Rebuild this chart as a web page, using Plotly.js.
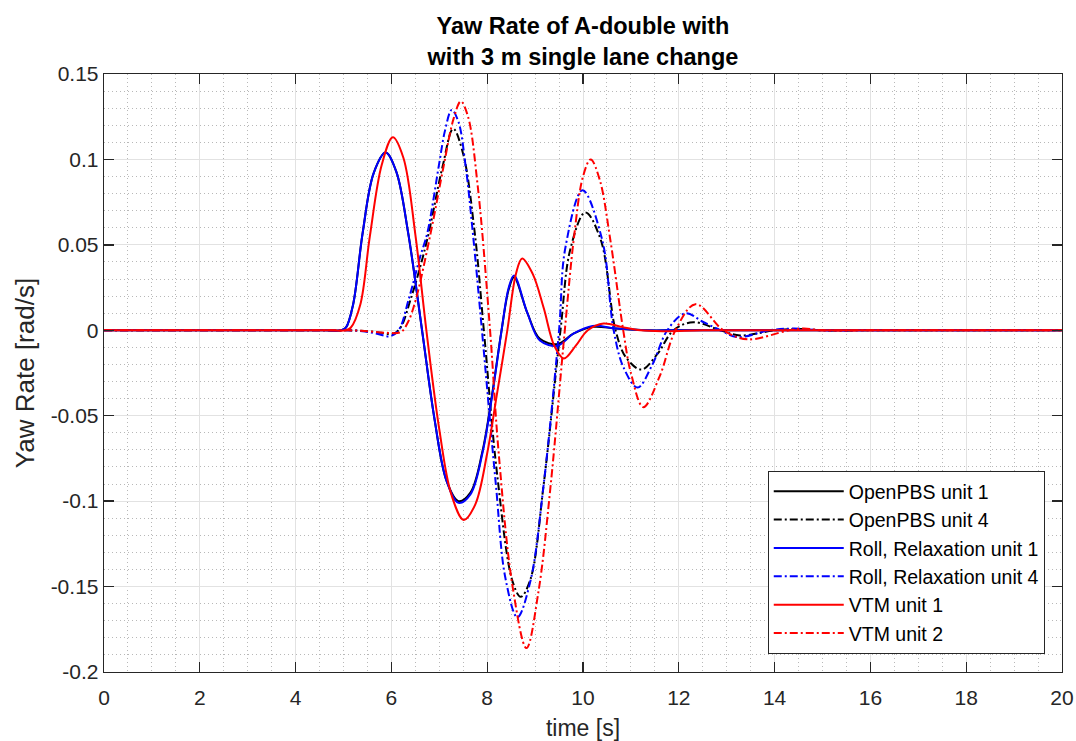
<!DOCTYPE html>
<html>
<head>
<meta charset="utf-8">
<script src="https://cdn.plot.ly/plotly-3.0.1.min.js"></script>
<style>html,body{margin:0;padding:0;background:#fff;}#chart{width:1076px;height:741px;}</style>
</head>
<body>
<div id="chart"></div>
<script>
// ---- Data ----
var seriesNames = ["OpenPBS unit 1", "OpenPBS unit 4", "Roll, Relaxation unit 1", "Roll, Relaxation unit 4", "VTM unit 1", "VTM unit 2"];

var t_open1 = [0,1,2,3,4,4.6,4.95,5.05,5.2,5.4,5.63,5.88,6.1,6.35,6.64,6.9,7.15,7.4,7.65,7.9,8.1,8.3,8.45,8.56,8.84,9.1,9.47,9.8,10.2,10.7,11.3,12,13,14,15,16,17,18,19,20];
var y_open1 = [0,0,0,0,0,0,0,0.0015,0.015,0.057,0.092,0.104,0.093,0.057,0,-0.052,-0.088,-0.100,-0.095,-0.071,-0.038,0,0.024,0.031,0.010,-0.005,-0.008,-0.002,0.002,0.001,0,0,0,0,0,0,0,0,0,0];

var t_roll1 = [0,1,2,3,4,4.6,4.95,5.05,5.2,5.4,5.63,5.88,6.1,6.35,6.64,6.9,7.15,7.4,7.65,7.9,8.1,8.3,8.45,8.56,8.84,9.1,9.47,9.8,10.2,10.7,11.3,12,13,14,15,16,17,18,19,20];
var y_roll1 = [0,0,0,0,0,0,0,0.0015,0.015,0.057,0.092,0.104,0.093,0.057,0,-0.052,-0.088,-0.101,-0.096,-0.072,-0.039,0,0.025,0.032,0.010,-0.006,-0.009,-0.002,0.0025,0.001,0,0,0,0,0,0,0,0,0,0];

var t_vtm1 = [0,1,2,3,4,4.7,5.05,5.15,5.35,5.55,5.8,6.03,6.25,6.5,6.73,7.0,7.25,7.51,7.75,8.0,8.2,8.42,8.6,8.73,8.95,9.18,9.4,9.6,9.85,10.1,10.43,10.8,11.2,11.7,12.5,13.5,15,16,17,18,19,20];
var y_vtm1 = [0,0,0,0,0,0,0,0.0015,0.015,0.055,0.097,0.113,0.101,0.056,0,-0.058,-0.096,-0.111,-0.102,-0.072,-0.038,0,0.033,0.042,0.033,0.013,-0.009,-0.0165,-0.009,0,0.004,0.002,0,-0.0005,0,0,0,0,0,0,0,0];

var t_open4 = [0,1,2,3,4,4.6,5.1,5.5,5.8,6.05,6.2,6.4,6.6,6.78,7.07,7.29,7.5,7.74,7.93,8.21,8.53,8.70,8.9,9.18,9.53,9.74,10.05,10.37,10.68,10.9,11.22,11.55,11.89,12.3,12.87,13.28,14.0,14.5,15,16,17,18,19,20];
var y_open4 = [0,0,0,0,0,0,0,-0.0005,-0.0015,-0.002,0.002,0.018,0.037,0.057,0.096,0.118,0.103,0.057,0,-0.085,-0.147,-0.156,-0.146,-0.09,0,0.048,0.069,0.053,0,-0.016,-0.023,-0.014,0,0.0047,0,-0.003,0,0.0008,0,0,0,0,0,0];

var t_roll4 = [0,1,2,3,4,4.6,5.05,5.4,5.7,5.97,6.15,6.36,6.6,6.75,7.0,7.12,7.26,7.4,7.55,7.7,7.89,8.18,8.38,8.63,8.9,9.18,9.5,9.63,9.99,10.4,10.64,10.85,11.14,11.45,11.76,12.14,12.5,12.87,13.22,13.9,14.4,15,16,17,18,19,20];
var y_roll4 = [0,0,0,0,0,0,0,-0.0005,-0.002,-0.0035,0,0.018,0.043,0.057,0.098,0.117,0.129,0.122,0.096,0.057,0,-0.09,-0.145,-0.168,-0.147,-0.09,0,0.048,0.082,0.053,0,-0.022,-0.0335,-0.02,0,0.010,0.005,0,-0.004,0,0.001,0,0,0,0,0,0];

var t_vtm2 = [0,1,2,3,4,4.6,5.1,5.5,5.9,6.2,6.35,6.51,6.82,7.09,7.3,7.45,7.6,7.8,8.06,8.24,8.53,8.82,9.07,9.32,9.62,9.81,10.0,10.16,10.35,10.57,10.84,11.0,11.26,11.6,11.93,12.35,12.93,13.43,14.3,14.6,15,16,17,18,19,20];
var y_vtm2 = [0,0,0,0,0,0,0,-0.0005,-0.0015,-0.001,0.005,0.018,0.057,0.096,0.124,0.134,0.125,0.085,0,-0.072,-0.15,-0.186,-0.153,-0.092,0,0.054,0.09,0.100,0.088,0.053,0,-0.025,-0.045,-0.027,0,0.0153,0,-0.0053,0,0.001,0,0,0,0,0,0];

var xTickVals = [0,2,4,6,8,10,12,14,16,18,20];
var xTickText = ["0","2","4","6","8","10","12","14","16","18","20"];
var yTickVals = [-0.2,-0.15,-0.1,-0.05,0,0.05,0.1,0.15];
var yTickText = ["-0.2","-0.15","-0.1","-0.05","0","0.05","0.1","0.15"];

var titleText = "Yaw Rate of A-double with<br>with 3 m single lane change";
var xTitle = "time [s]";
var yTitle = "Yaw Rate [rad/s]";

// ---- Build traces ----
var DASHDOT = "8px,3px,2px,3px";
function mk(name, t, y, color, dash) {
  return {
    type: "scatter", mode: "lines", name: name, x: t, y: y,
    legendgroup: name,
    line: {color: color, width: 2, dash: dash, shape: "spline", smoothing: 1},
    hoverinfo: "skip"
  };
}
var traces = [
  mk(seriesNames[0], t_open1, y_open1, "#000000", "solid"),
  mk(seriesNames[1], t_open4, y_open4, "#000000", DASHDOT),
  mk(seriesNames[2], t_roll1, y_roll1, "#0000ff", "solid"),
  mk(seriesNames[3], t_roll4, y_roll4, "#0000ff", DASHDOT),
  mk(seriesNames[4], t_vtm1, y_vtm1, "#ff0000", "solid"),
  mk(seriesNames[5], t_vtm2, y_vtm2, "#ff0000", DASHDOT)
];

var FONT = "Liberation Sans, Arial, Helvetica, sans-serif";
var axisCommon = {
  showline: true, linecolor: "#262626", linewidth: 1.3, mirror: "ticks",
  ticks: "inside", ticklen: 10, tickwidth: 1.3, tickcolor: "#262626",
  showgrid: true, gridcolor: "#e2e2e2", gridwidth: 1,
  zeroline: false, tickmode: "array",
  tickfont: {family: FONT, size: 21, color: "#262626"}
};

var layout = {
  width: 1076, height: 741,
  margin: {l: 104, r: 14, t: 74, b: 69, autoexpand: false},
  paper_bgcolor: "#ffffff", plot_bgcolor: "#ffffff",
  showlegend: true,
  title: {
    text: titleText, x: 0.5, xref: "paper", xanchor: "center",
    y: 0.954, yref: "container", yanchor: "top",
    font: {family: FONT, size: 23.5, color: "#000000", weight: "bold"}
  },
  xaxis: Object.assign({}, axisCommon, {
    range: [0, 20], tickvals: xTickVals, ticktext: xTickText,
    ticklabelstandoff: 6,
    minor: {dtick: 0.5, tick0: 0, showgrid: true, griddash: "1px,3px", gridcolor: "#b8b8b8", gridwidth: 1, ticks: ""},
    title: {text: xTitle, font: {family: FONT, size: 23, color: "#262626"}, standoff: 16}
  }),
  yaxis: Object.assign({}, axisCommon, {
    range: [-0.2, 0.15], tickvals: yTickVals, ticktext: yTickText,
    minor: {dtick: 0.01, tick0: 0, showgrid: true, griddash: "1px,3px", gridcolor: "#b8b8b8", gridwidth: 1, ticks: ""},
    title: {text: yTitle, font: {family: FONT, size: 26, color: "#262626"}, standoff: 8}
  }),
  legend: {
    x: 0.982, xanchor: "right", y: 0.03, yanchor: "bottom",
    bgcolor: "#ffffff", bordercolor: "#262626", borderwidth: 1,
    font: {family: FONT, size: 19.5, color: "#000000"},
    itemwidth: 70, tracegroupgap: 1, traceorder: "normal"
  }
};

Plotly.newPlot("chart", traces, layout, {staticPlot: true, displayModeBar: false});
</script>
</body>
</html>
